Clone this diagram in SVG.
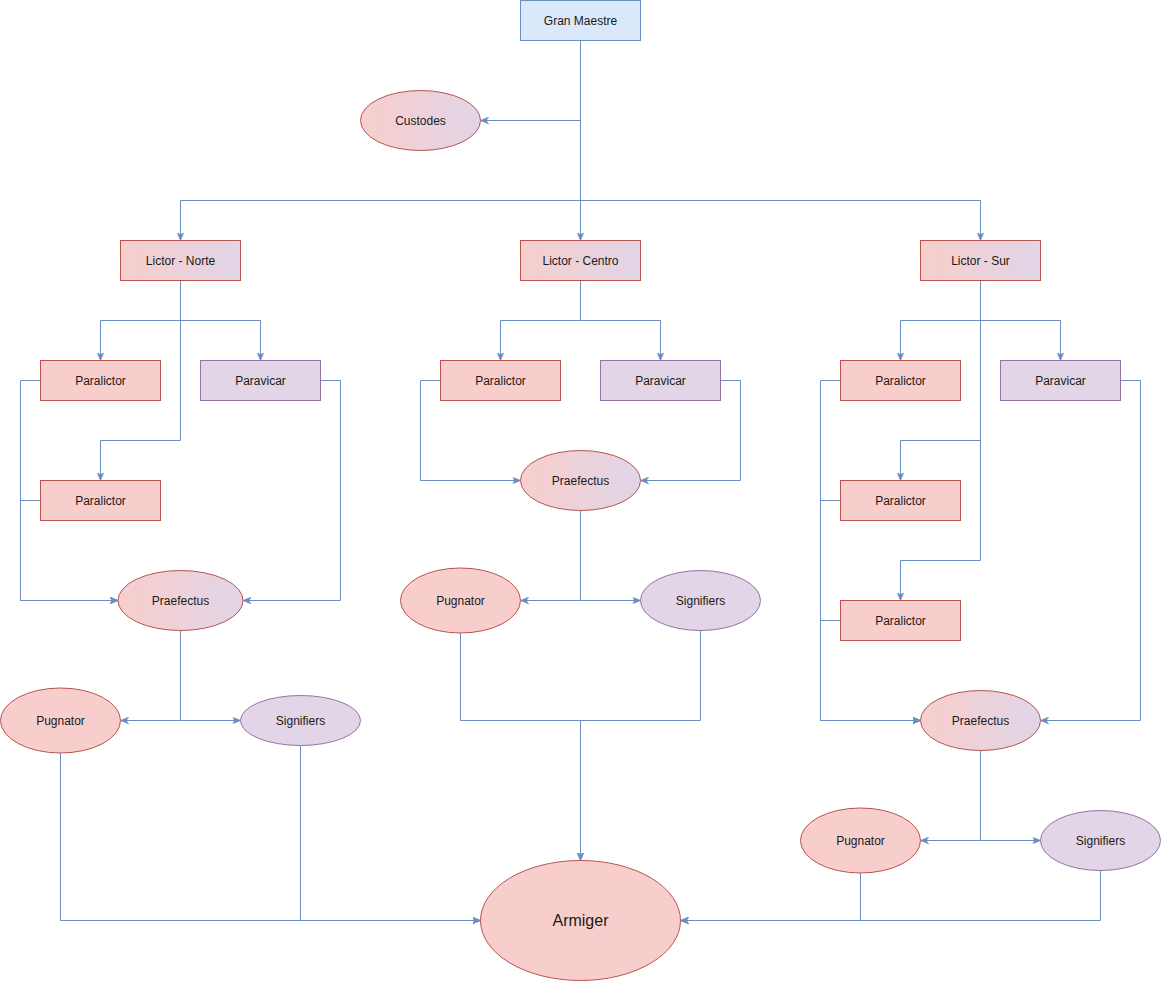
<svg xmlns="http://www.w3.org/2000/svg" width="1161" height="981" viewBox="0 0 1161 981">
<defs>
<linearGradient id="rp" x1="0" y1="0" x2="1" y2="0">
<stop offset="0" stop-color="#f8cecc"/>
<stop offset="1" stop-color="#e1d5e7"/>
</linearGradient>
<marker id="arr" viewBox="0 0 10 10" refX="10" refY="5" markerWidth="8" markerHeight="8" markerUnits="userSpaceOnUse" orient="auto">
<path d="M0,1 L10,5 L0,9 L3,5 z" fill="#6c8ebf" stroke="#6c8ebf" stroke-width="1"/>
</marker>
</defs>
<style>
.red{fill:#f8cecc;stroke:#b85450;stroke-width:1}
.pur{fill:#e1d5e7;stroke:#9673a6;stroke-width:1}
.blu{fill:#dae8fc;stroke:#6c8ebf;stroke-width:1}
.grd{fill:url(#rp);stroke:#b85450;stroke-width:1}
.e{fill:none;stroke:#6c8ebf;stroke-width:1}
.a{marker-end:url(#arr)}
text{font-family:"Liberation Sans",Arial,Helvetica,sans-serif;font-size:12px;fill:#1a1a1a;text-anchor:middle;dominant-baseline:central}
</style>
<rect width="1161" height="981" fill="#ffffff"/>
<g id="connectors" transform="translate(0.5,0.5)">
<path class="e a" d="M580,40 V120 H480"/>
<path class="e a" d="M580,40 V200 H180 V240"/>
<path class="e a" d="M580,40 V240"/>
<path class="e a" d="M580,40 V200 H980 V240"/>
<path class="e a" d="M180,280 V320 H100 V360"/>
<path class="e a" d="M180,280 V320 H260 V360"/>
<path class="e a" d="M180,280 V440 H100 V480"/>
<path class="e a" d="M40,380 H20 V600 H117.5"/>
<path class="e a" d="M40,500 H20 V600 H117.5"/>
<path class="e a" d="M320,380 H340 V600 H242.5"/>
<path class="e a" d="M180,630 V720 H120"/>
<path class="e a" d="M180,630 V720 H240"/>
<path class="e a" d="M60,752.5 V920 H480"/>
<path class="e a" d="M300,745 V920 H480"/>
<path class="e a" d="M580,280 V320 H500 V360"/>
<path class="e a" d="M580,280 V320 H660 V360"/>
<path class="e a" d="M440,380 H420 V480 H520"/>
<path class="e a" d="M720,380 H740 V480 H640"/>
<path class="e a" d="M580,510 V600 H520"/>
<path class="e a" d="M580,510 V600 H640"/>
<path class="e a" d="M460,632.5 V720 H580 V860"/>
<path class="e a" d="M700,630 V720 H580 V860"/>
<path class="e a" d="M980,280 V320 H900 V360"/>
<path class="e a" d="M980,280 V320 H1060 V360"/>
<path class="e a" d="M980,280 V440 H900 V480"/>
<path class="e a" d="M980,280 V560 H900 V600"/>
<path class="e a" d="M840,380 H820 V720 H920"/>
<path class="e a" d="M840,500 H820 V720 H920"/>
<path class="e a" d="M840,620 H820 V720 H920"/>
<path class="e a" d="M1120,380 H1140 V720 H1040"/>
<path class="e a" d="M980,750 V840 H920"/>
<path class="e a" d="M980,750 V840 H1040"/>
<path class="e a" d="M860,872.5 V920 H680"/>
<path class="e a" d="M1100,870 V920 H680"/>
</g>
<g transform="translate(0.5,0.5)">
<g id="gran-maestre"><rect class="blu" x="520" y="0" width="120" height="40"/><text x="580" y="20">Gran Maestre</text></g>
<g id="custodes"><ellipse class="grd" cx="420" cy="120" rx="60" ry="30"/><text x="420" y="120">Custodes</text></g>
<g id="lictor-norte"><rect class="grd" x="120" y="240" width="120" height="40"/><text x="180" y="260">Lictor - Norte</text></g>
<g id="lictor-centro"><rect class="grd" x="520" y="240" width="120" height="40"/><text x="580" y="260">Lictor - Centro</text></g>
<g id="lictor-sur"><rect class="grd" x="920" y="240" width="120" height="40"/><text x="980" y="260">Lictor - Sur</text></g>
<g id="norte-paralictor-1"><rect class="red" x="40" y="360" width="120" height="40"/><text x="100" y="380">Paralictor</text></g>
<g id="norte-paravicar"><rect class="pur" x="200" y="360" width="120" height="40"/><text x="260" y="380">Paravicar</text></g>
<g id="norte-paralictor-2"><rect class="red" x="40" y="480" width="120" height="40"/><text x="100" y="500">Paralictor</text></g>
<g id="norte-praefectus"><ellipse class="grd" cx="180" cy="600" rx="62.5" ry="30"/><text x="180" y="600">Praefectus</text></g>
<g id="norte-pugnator"><ellipse class="red" cx="60" cy="720" rx="60" ry="32.5"/><text x="60" y="720">Pugnator</text></g>
<g id="norte-signifiers"><ellipse class="pur" cx="300" cy="720" rx="60" ry="25"/><text x="300" y="720">Signifiers</text></g>
<g id="centro-paralictor"><rect class="red" x="440" y="360" width="120" height="40"/><text x="500" y="380">Paralictor</text></g>
<g id="centro-paravicar"><rect class="pur" x="600" y="360" width="120" height="40"/><text x="660" y="380">Paravicar</text></g>
<g id="centro-praefectus"><ellipse class="grd" cx="580" cy="480" rx="60" ry="30"/><text x="580" y="480">Praefectus</text></g>
<g id="centro-pugnator"><ellipse class="red" cx="460" cy="600" rx="60" ry="32.5"/><text x="460" y="600">Pugnator</text></g>
<g id="centro-signifiers"><ellipse class="pur" cx="700" cy="600" rx="60" ry="30"/><text x="700" y="600">Signifiers</text></g>
<g id="sur-paralictor-1"><rect class="red" x="840" y="360" width="120" height="40"/><text x="900" y="380">Paralictor</text></g>
<g id="sur-paravicar"><rect class="pur" x="1000" y="360" width="120" height="40"/><text x="1060" y="380">Paravicar</text></g>
<g id="sur-paralictor-2"><rect class="red" x="840" y="480" width="120" height="40"/><text x="900" y="500">Paralictor</text></g>
<g id="sur-paralictor-3"><rect class="red" x="840" y="600" width="120" height="40"/><text x="900" y="620">Paralictor</text></g>
<g id="sur-praefectus"><ellipse class="grd" cx="980" cy="720" rx="60" ry="30"/><text x="980" y="720">Praefectus</text></g>
<g id="sur-pugnator"><ellipse class="red" cx="860" cy="840" rx="60" ry="32.5"/><text x="860" y="840">Pugnator</text></g>
<g id="sur-signifiers"><ellipse class="pur" cx="1100" cy="840" rx="60" ry="30"/><text x="1100" y="840">Signifiers</text></g>
<g id="armiger"><ellipse class="red" cx="580" cy="920" rx="100" ry="60"/><text x="580" y="920" style="font-size:16px">Armiger</text></g>
</g>
</svg>
